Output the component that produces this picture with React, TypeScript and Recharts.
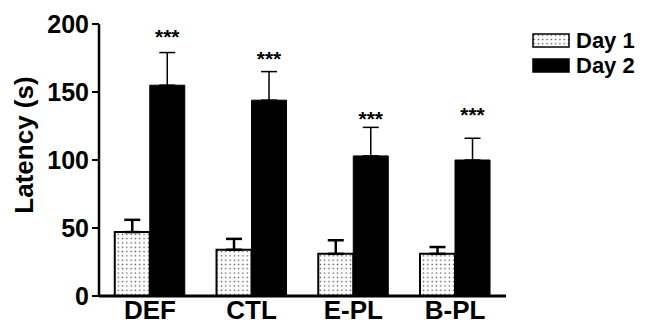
import React from "react";
import { BarChart, Bar, XAxis, YAxis, ErrorBar, LabelList } from "recharts";

const groups = ["DEF", "CTL", "E-PL", "B-PL"];
const day1 = [47, 34, 31, 31];
const day1Sem = [9, 8, 10, 5];
const day2 = [155, 144, 103, 100];
const day2Sem = [24, 21, 21, 16];
const sigMarks = ["***", "***", "***", "***"];
const sigLevel = [194, 178, 134, 137];
const yTicks = [0, 50, 100, 150, 200];

const data = groups.map((g, i) => ({
  group: g,
  day1: day1[i],
  day1Err: [0, day1Sem[i]],
  day2: day2[i],
  day2Err: [0, day2Sem[i]],
  sig: sigMarks[i],
}));

const FONT = "'Liberation Sans', Arial, Helvetica, sans-serif";

const Stars = (props: any) => {
  const vb = props.viewBox && props.viewBox.width != null ? props.viewBox : props;
  const { x, y, width, height } = vb;
  const i = props.index;
  const perUnit = height / day2[i];
  const cy = y + height - sigLevel[i] * perUnit;
  return (
    <text
      x={x + width / 2}
      y={cy + 12}
      textAnchor="middle"
      fontSize={21}
      fontWeight="bold"
      fontFamily={FONT}
      fill="#000"
    >
      {props.value}
    </text>
  );
};

const YLabel = () => (
  <text
    x={0}
    y={0}
    transform="translate(33,145) rotate(-90)"
    textAnchor="middle"
    fontSize={26}
    fontWeight="bold"
    fontFamily={FONT}
    fill="#000"
  >
    Latency (s)
  </text>
);

const Swatch = ({ dotted }: { dotted: boolean }) => (
  <svg width={38} height={15} style={{ display: "block" }}>
    <rect
      x={1}
      y={1}
      width={36}
      height={13}
      fill={dotted ? "url(#dots)" : "#000"}
      stroke="#000"
      strokeWidth={1.5}
    />
  </svg>
);

const App = () => {
  return (
    <div
      style={{
        position: "absolute",
        left: 0,
        top: 0,
        width: 648,
        height: 325,
        background: "#fff",
      }}
    >
      <BarChart
        width={648}
        height={325}
        data={data}
        margin={{ top: 24, right: 142, bottom: 0, left: 0 }}
        barCategoryGap="15.5%"
        barGap={0}
      >
        <defs>
          <pattern id="dots" width="4.3" height="4.3" patternUnits="userSpaceOnUse">
            <rect width="4.3" height="4.3" fill="#fff" />
            <rect x="1.5" y="1.5" width="1.3" height="1.3" fill="#444" />
          </pattern>
        </defs>
        <XAxis
          dataKey="group"
          height={29}
          tickLine={false}
          axisLine={{ stroke: "#000", strokeWidth: 3 }}
          tick={{ fontSize: 26, fontWeight: "bold", fill: "#000", fontFamily: FONT }}
          tickMargin={-1}
        />
        <YAxis
          width={99}
          domain={[0, 200]}
          ticks={yTicks}
          interval={0}
          tickSize={7}
          tickMargin={3}
          axisLine={{ stroke: "#000", strokeWidth: 2.5 }}
          tickLine={{ stroke: "#000", strokeWidth: 2 }}
          tick={{ fontSize: 25, fontWeight: "bold", fill: "#000", fontFamily: FONT }}
          label={<YLabel />}
        />
        <Bar dataKey="day1" fill="url(#dots)" stroke="#000" strokeWidth={2} isAnimationActive={false}>
          <ErrorBar dataKey="day1Err" direction="y" width={8} stroke="#000" strokeWidth={2.5} />
        </Bar>
        <Bar dataKey="day2" fill="#000" stroke="#000" strokeWidth={1} isAnimationActive={false}>
          <ErrorBar dataKey="day2Err" direction="y" width={8} stroke="#000" strokeWidth={1.5} />
          <LabelList dataKey="sig" content={<Stars />} />
        </Bar>
      </BarChart>
      <div
        style={{
          position: "absolute",
          left: 532,
          top: 28,
          fontFamily: FONT,
          fontWeight: "bold",
          fontSize: 22,
          lineHeight: "25px",
          color: "#000",
        }}
      >
        <div style={{ display: "flex", alignItems: "center", height: 25 }}>
          <Swatch dotted={true} />
          <span style={{ marginLeft: 6 }}>Day 1</span>
        </div>
        <div style={{ display: "flex", alignItems: "center", height: 25 }}>
          <Swatch dotted={false} />
          <span style={{ marginLeft: 6 }}>Day 2</span>
        </div>
      </div>
    </div>
  );
};

export default App;
